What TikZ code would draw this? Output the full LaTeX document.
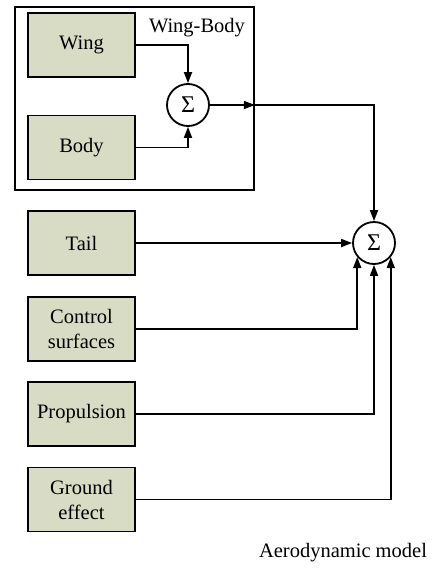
\documentclass[tikz,border=0pt]{standalone}
\usepackage{fontspec}
\setmainfont{Liberation Serif}
\usetikzlibrary{arrows.meta}
\definecolor{boxfill}{HTML}{D8DCC4}
\begin{document}
\begin{tikzpicture}[x=1pt,y=-1pt,
  font=\fontsize{20.5}{25}\selectfont,
  blk/.style={draw,line width=1.8pt,fill=boxfill,minimum width=107pt,minimum height=64pt,inner sep=0pt,align=center},
  sumnode/.style={draw,circle,line width=1.8pt,minimum size=42pt,inner sep=0pt,fill=white,font=\fontsize{24}{24}\selectfont},
  conn/.style={line width=1.7pt},
  arr/.style={conn,-{Triangle[length=11pt,width=8pt]}}]
\useasboundingbox (0,0) rectangle (435,568);
\node[draw,line width=1.8pt,minimum width=239pt,minimum height=183pt,inner sep=0pt] (outer) at (134.5,98.5) {};
\node (wblabel) at (197,28) {Wing-Body};
\node[blk] (wing) at (81.5,45) {Wing};
\node[blk] (body) at (81.5,147.5) {Body};
\node[sumnode] (s1) at (188,105) {Σ};
\node[sumnode] (s2) at (374,243) {Σ};
\node[blk] (tail) at (81.5,243) {Tail};
\node[blk] (ctrl) at (81.5,329) {Control\\surfaces};
\node[blk] (prop) at (81.5,414) {Propulsion};
\node[blk] (gnd) at (81.5,499.5) {Ground\\effect};
\node (title) at (343,553) {Aerodynamic model};
\coordinate (exit) at (outer.east |- s1.east);
\draw[arr] (wing.east) -| (s1.north);
\draw[arr] (body.east) -| (s1.south);
\draw[arr] (s1.east) -- (exit);
\draw[arr] (exit) -| (s2.north);
\draw[arr] (tail.east) -- (s2.west);
\draw[arr] (ctrl.east) -| (s2.-140);
\draw[arr] (prop.east) -| (s2.south);
\draw[arr] (gnd.east) -| (s2.-40);
\end{tikzpicture}
\end{document}
